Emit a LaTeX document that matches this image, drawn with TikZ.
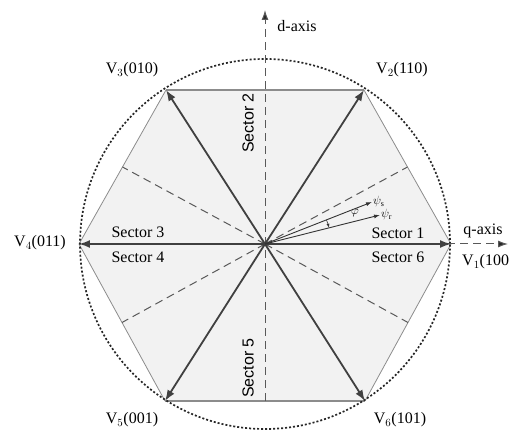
\documentclass[tikz,border=0pt]{standalone}
\usepackage{fontspec}
\setmainfont{Liberation Serif}
\setsansfont{Liberation Sans}
\usetikzlibrary{arrows.meta,calc}

\begin{document}
\begin{tikzpicture}[x=1pt,y=1pt,>={Latex[length=11pt,width=8pt]},
  every node/.style={font=\fontsize{16}{18}\selectfont,inner sep=1pt},
  vec/.style={->,draw=black!75,line width=1.8pt},
  flux/.style={-{Latex[length=6pt,width=4pt]},draw=black!80,line width=0.9pt},
  sectorline/.style={draw=black!65,dash pattern=on 8pt off 5pt,line width=1pt},
  axistip/.style={-{Latex[length=10pt,width=7pt,fill=black!85]}},
  hexedge/.style={draw=black!45,line width=0.8pt},
  sanslbl/.style={rotate=90,font=\sffamily\fontsize{16}{18}\selectfont}]
\useasboundingbox (-265,-186) rectangle (248,244);
% Vertices of the hexagon
\coordinate (O) at (0,0);
\coordinate (V1) at (186,0);
\coordinate (V2) at (99,154);
\coordinate (V3) at (-99,154);
\coordinate (V4) at (-186,0);
\coordinate (V5) at (-100,-157);
\coordinate (V6) at (100,-157);
% Hexagon
\fill[black!5] (V1) -- (V2) -- (V3) -- (V4) -- (V5) -- (V6) -- cycle;
\draw[hexedge] (V1) -- (V2) (V3) -- (V4) -- (V5) (V6) -- (V1);
\draw[hexedge,line width=1.6pt] (V2) -- (V3) (V5) -- (V6);
% Dotted circle
\draw[black!85,dash pattern=on 2pt off 2pt,line width=1.7pt] (O) circle (185);
% Sector boundaries
\foreach \a/\b in {V1/V2,V3/V4,V4/V5,V6/V1}
  \draw[sectorline] (O) -- ($(\a)!0.5!(\b)$);
% Axes
\coordinate (dtip) at (0,234);
\coordinate (qtip) at (243,0);
\draw[sectorline,axistip] ($(V5)!0.5!(V6)$) -- (dtip);
\draw[sectorline,axistip] (O) -- (qtip);
\node (daxis) at (32,218) {d-axis};
\node (qaxis) at (218,13) {q-axis};
% Voltage vectors
\foreach \v in {V1,V2,V3,V4,V5,V6}
  \draw[vec] (O) -- (\v);
\node[anchor=west] (lV1) at (196,-18) {V$_1$(100};
\node (lV2) at (137,174) {V$_2$(110)};
\node (lV3) at (-133,174) {V$_3$(010)};
\node (lV4) at (-225,1) {V$_4$(011)};
\node (lV5) at (-133,-176) {V$_5$(001)};
\node (lV6) at (135,-176) {V$_6$(101)};
% Sector labels
\node (s1) at (133,11) {Sector 1};
\node (s6) at (133,-13) {Sector 6};
\node (s3) at (-127,12) {Sector 3};
\node (s4) at (-127,-13) {Sector 4};
\node[sanslbl] (s2) at (-17,121) {Sector 2};
\node[sanslbl] (s5) at (-17,-124) {Sector 5};
% Flux vectors
\coordinate (psis) at (107,42);
\coordinate (psir) at (115,29);
\draw[flux] (O) -- (psis);
\draw[flux] (O) -- (psir);
\node[anchor=west,font=\fontsize{12}{14}\selectfont] (lpsis) at (psis) {$\psi_{\mathrm{s}}$};
\node[anchor=west,font=\fontsize{12}{14}\selectfont] (lpsir) at (psir) {$\psi_{\mathrm{r}}$};
\draw[-{Latex[length=4pt,width=3pt]},black!80,line width=0.6pt] (21.4:66) arc (21.4:14.2:66);
\node[font=\fontsize{12}{14}\selectfont] (lphi) at (90,31) {$\varphi$};
\end{tikzpicture}
\end{document}
